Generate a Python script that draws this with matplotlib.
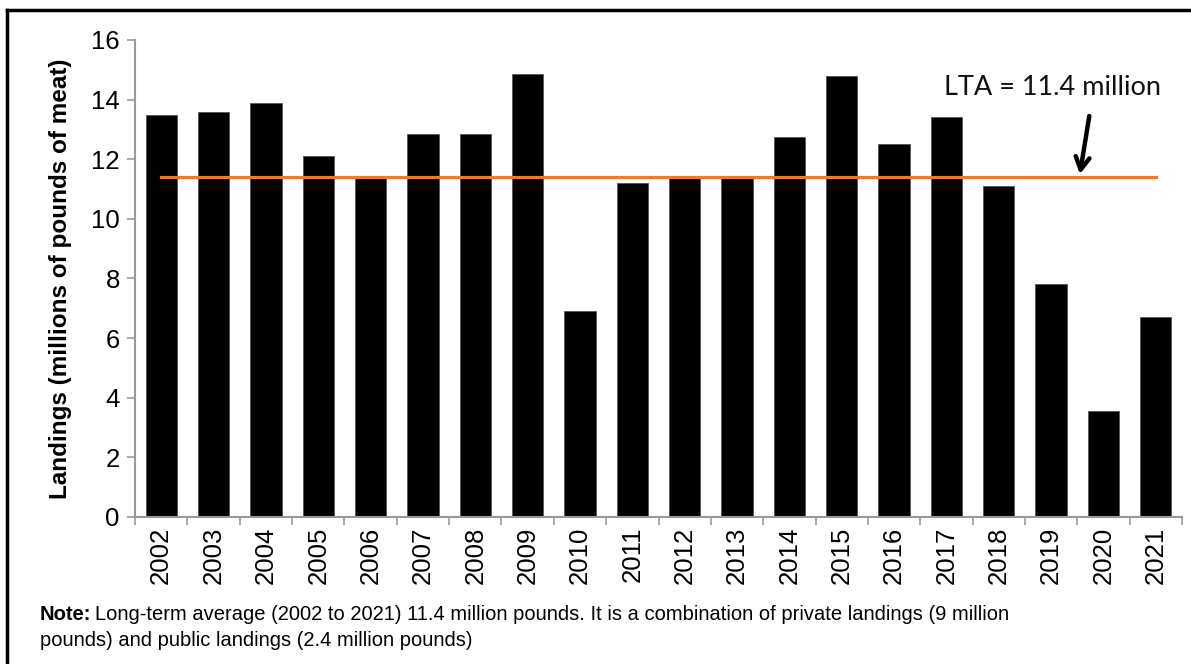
import numpy as np
import matplotlib.pyplot as plt
from matplotlib.lines import Line2D

plt.rcParams['font.family'] = ['Liberation Sans', 'DejaVu Sans']

# landings per year, millions of pounds of meat
years = ['2002', '2003', '2004', '2005', '2006', '2007', '2008', '2009', '2010', '2011',
         '2012', '2013', '2014', '2015', '2016', '2017', '2018', '2019', '2020', '2021']
landings = [13.5, 13.6, 13.9, 12.1, 11.4, 12.85, 12.85, 14.85, 6.9, 11.2,
            11.4, 11.4, 12.75, 14.8, 12.5, 13.4, 11.1, 7.8, 3.55, 6.7]
lta = 11.4
y_ticks = [0, 2, 4, 6, 8, 10, 12, 14, 16]

fig = plt.figure(figsize=(11.91, 6.64), dpi=100)
ax = fig.add_axes([0.1134, 0.2214, 0.8790, 0.7184])

x = np.arange(len(years))
ax.bar(x, landings, width=0.6, color='black', edgecolor='#555555', linewidth=0.6, zorder=2)
ax.plot([x[0], x[-1]], [lta, lta], color='#EE7A2E', linewidth=2.3, zorder=3)

ax.set_xlim(-0.5, len(years) - 0.5)
ax.set_ylim(0, 16)
ax.set_yticks(y_ticks)
ax.tick_params(axis='y', labelsize=18.5, length=6, width=1.2, color='#999999', pad=5)
ax.set_xticks(x)
ax.set_xticklabels(years, rotation=90, fontsize=18.5)
ax.set_xticks(np.arange(-0.5, len(years), 1), minor=True)
ax.tick_params(axis='x', which='major', length=0, pad=7)
ax.tick_params(axis='x', which='minor', length=6, width=1.2, color='#999999')

for s in ['top', 'right']:
    ax.spines[s].set_visible(False)
for s in ['left', 'bottom']:
    ax.spines[s].set_color('#999999')
    ax.spines[s].set_linewidth(1.5)

ax.set_ylabel('Landings (millions of pounds of meat)', fontsize=17.5, fontweight='bold')
ax.yaxis.set_label_coords(-0.06, 0.5)

ax.text(17.02, 14.4, 'LTA = 11.4 million', fontsize=19.5, family=['Lato', 'DejaVu Sans'],
        ha='center', va='center', color='#111111')
ax.annotate('', xy=(17.55, 11.5), xytext=(17.73, 13.45),
            arrowprops=dict(arrowstyle='->,head_length=0.9,head_width=0.5', lw=3.2, color='black',
                            shrinkA=0, shrinkB=0))

# note below chart
note_b = fig.text(40 / 1191, 1 - 615 / 664, 'Note:', fontsize=14.5, fontweight='bold', va='center')
fig.canvas.draw()
bb = note_b.get_window_extent()
fig.text(bb.x1 / 1191 + 0.003, 1 - 615 / 664,
         'Long-term average (2002 to 2021) 11.4 million pounds. It is a combination of private landings (9 million',
         fontsize=14.5, va='center')
fig.text(40 / 1191, 1 - 641 / 664, 'pounds) and public landings (2.4 million pounds)', fontsize=14.5, va='center')

# frame lines
fig.add_artist(Line2D([7 / 1191, 1.0], [1 - 10 / 664, 1 - 10 / 664], color='black', lw=2.5))
fig.add_artist(Line2D([7 / 1191, 7 / 1191], [0.0, 1 - 10 / 664], color='black', lw=2.5))

fig.savefig('out.png', dpi=100)
